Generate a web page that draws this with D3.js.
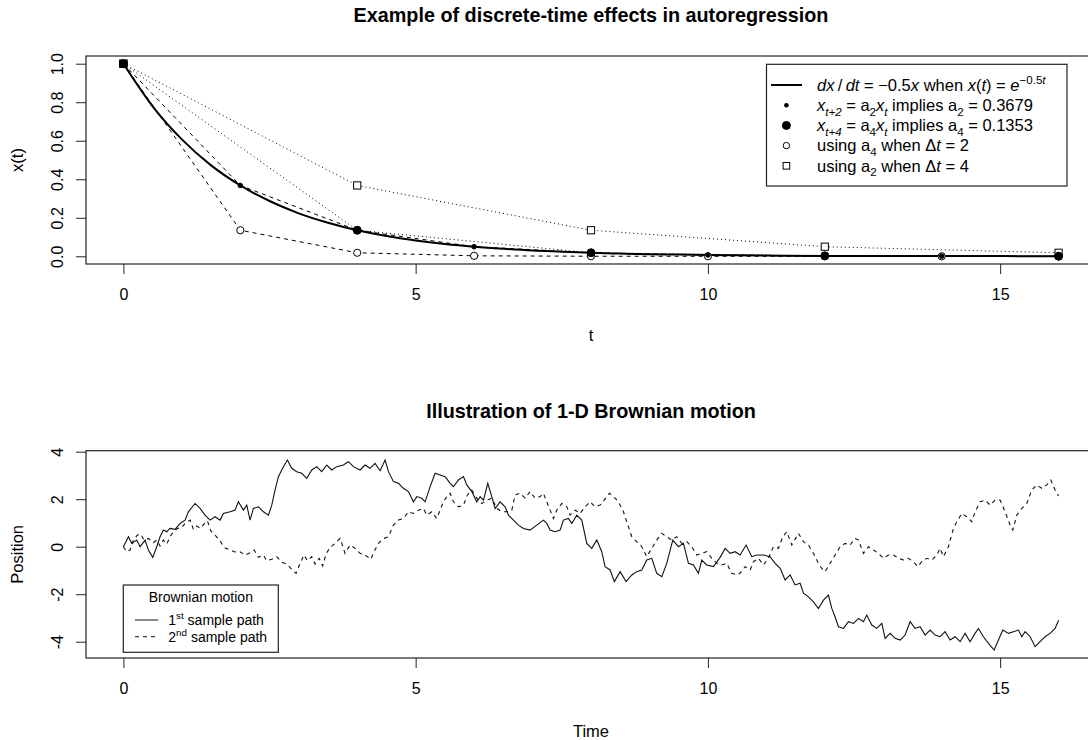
<!DOCTYPE html>
<html><head><meta charset="utf-8">
<script src="https://cdn.jsdelivr.net/npm/d3@7"></script>
<style>
html,body{margin:0;padding:0;background:#fff;}
svg{display:block;}
text{font-family:"Liberation Sans",Arial,Helvetica,sans-serif;fill:#000;}
</style></head><body>
<svg id="chart" width="1088" height="740"></svg>
<script>
// ---------- data ----------
const topTitle = "Example of discrete-time effects in autoregression";
const botTitle = "Illustration of 1-D Brownian motion";
const xTicks = [0, 5, 10, 15];
const yTicksTop = [0, 0.2, 0.4, 0.6, 0.8, 1.0];
const yTicksBot = [-4, -2, 0, 2, 4];

// continuous solution x(t)
const curveT = [0,0.5,1,1.5,2,2.5,3,3.5,4,4.5,5,5.5,6,6.5,7,7.5,8,8.5,9,9.5,10,11,12,13,14,15,16];
const curveX = [1,0.779,0.607,0.472,0.368,0.287,0.223,0.174,0.135,0.105,0.082,0.064,0.050,0.039,0.030,0.024,0.018,0.014,0.011,0.009,0.007,0.004,0.002,0.002,0.001,0.001,0.000];

// starting point (filled square)
const startT = [0];
const startX = [1];
// a2 every 2 steps (small dots, dashed)
const smallT = [0,2,4,6,8,10,12,14,16];
const smallX = [1,0.3679,0.1353,0.0498,0.0183,0.0067,0.0025,0.0009,0.0003];
// a4 every 4 steps (big dots, dotted)
const bigT = [0,4,8,12,16];
const bigX = [1,0.1353,0.0183,0.0025,0.0003];
// using a4 when dt=2 (open circles, dashed)
const circT = [0,2,4,6,8,10,12,14,16];
const circX = [1,0.1353,0.0183,0.0025,0.0003,0.0000,0.0000,0.0000,0.0000];
// using a2 when dt=4 (open squares, dotted)
const sqT = [0,4,8,12,16];
const sqX = [1,0.3679,0.1353,0.0498,0.0183];

// Brownian sample path 1
const bm1T = [0,0.086,0.143,0.228,0.285,0.371,0.428,0.502,0.570,0.627,0.684,0.741,0.798,0.884,0.969,1.055,1.112,1.226,1.312,1.397,1.483,1.568,1.654,1.711,1.825,1.910,1.967,2.053,2.110,2.167,2.224,2.310,2.395,2.481,2.538,2.595,2.652,2.737,2.806,2.880,2.965,3.051,3.137,3.222,3.308,3.393,3.479,3.564,3.650,3.764,3.849,3.935,4.049,4.135,4.220,4.306,4.392,4.477,4.535,4.62,4.706,4.79,4.877,4.962,5.02,5.105,5.162,5.248,5.333,5.418,5.504,5.59,5.647,5.732,5.818,5.875,5.96,6.046,6.103,6.16,6.234,6.302,6.36,6.445,6.53,6.588,6.673,6.759,6.844,6.958,7.072,7.186,7.243,7.3,7.386,7.472,7.528,7.614,7.671,7.757,7.842,7.928,8.013,8.099,8.184,8.241,8.327,8.40,8.498,8.60,8.698,8.783,8.869,8.954,9.04,9.125,9.211,9.296,9.399,9.496,9.582,9.667,9.753,9.838,9.895,9.981,10.095,10.209,10.295,10.38,10.466,10.55,10.654,10.75,10.836,10.95,11.064,11.15,11.236,11.321,11.407,11.492,11.578,11.635,11.72,11.806,11.891,11.977,12.062,12.12,12.176,12.234,12.319,12.405,12.49,12.576,12.661,12.718,12.804,12.889,12.975,13.032,13.117,13.203,13.289,13.374,13.46,13.545,13.631,13.716,13.802,13.887,13.973,14.058,14.144,14.23,14.315,14.4,14.486,14.571,14.629,14.714,14.8,14.897,14.971,15.045,15.142,15.228,15.313,15.37,15.427,15.513,15.598,15.684,15.769,15.855,15.94,16.0];
const bm1X = [0,0.42,0.14,0.28,0,0.28,-0.14,-0.45,0,0.42,0.70,0.63,0.77,0.73,0.98,1.12,1.47,1.82,1.61,1.33,1.12,1.26,1.12,1.40,1.47,1.54,1.89,1.54,1.75,1.12,1.61,1.68,1.47,1.33,1.75,2.39,2.95,3.37,3.65,3.30,3.16,3.09,2.88,3.23,3.37,3.16,3.44,3.23,3.37,3.44,3.58,3.37,3.23,3.44,3.30,3.51,3.20,3.65,3.16,2.74,2.67,2.46,2.32,1.89,2.11,2.04,1.89,2.53,3.09,3.02,2.95,2.67,2.53,2.81,2.95,2.60,2.32,1.89,2.11,1.96,2.67,2.11,1.61,1.89,1.68,1.33,1.12,0.91,0.77,0.70,0.91,1.12,0.98,0.70,0.63,0.70,1.12,1.19,0.98,1.33,1.12,0.14,-0.07,0.28,-0.21,-0.84,-0.98,-1.47,-1.05,-1.47,-1.19,-1.05,-0.98,-0.56,-0.49,-1.12,-1.26,-0.70,0.28,0,0.14,-0.70,-0.77,-1.12,-0.56,-0.77,-0.84,-0.45,-0.07,-0.28,-0.21,-0.35,0.07,-0.42,-0.35,-0.35,-0.42,-0.70,-0.91,-1.40,-1.19,-1.61,-1.54,-1.96,-2.11,-2.32,-2.60,-2.25,-2.04,-2.60,-2.95,-3.37,-3.44,-3.16,-3.23,-3.02,-3.16,-2.88,-3.30,-3.44,-3.23,-3.86,-3.65,-3.86,-3.93,-3.72,-3.16,-3.44,-3.37,-3.72,-3.51,-3.72,-3.79,-3.58,-3.93,-3.79,-4.0,-3.65,-4.0,-3.65,-3.44,-3.79,-4.07,-4.35,-3.93,-3.51,-3.65,-3.58,-3.51,-3.79,-3.58,-3.79,-4.21,-4.0,-3.79,-3.65,-3.44,-3.10];

// Brownian sample path 2
const bm2T = [0,0.057,0.114,0.171,0.24,0.297,0.354,0.428,0.513,0.57,0.627,0.684,0.741,0.798,0.855,0.924,0.998,1.055,1.141,1.198,1.255,1.312,1.38,1.437,1.494,1.568,1.654,1.722,1.825,1.91,1.996,2.082,2.167,2.236,2.31,2.395,2.452,2.538,2.623,2.709,2.794,2.88,2.954,3.023,3.091,3.148,3.222,3.279,3.348,3.41,3.467,3.536,3.621,3.707,3.792,3.878,3.963,4.049,4.135,4.232,4.289,4.363,4.448,4.534,4.62,4.706,4.79,4.877,4.962,5.048,5.133,5.19,5.276,5.361,5.418,5.476,5.533,5.59,5.647,5.732,5.818,5.886,5.96,6.046,6.132,6.217,6.302,6.388,6.474,6.559,6.645,6.702,6.787,6.873,6.958,7.044,7.129,7.186,7.243,7.3,7.357,7.414,7.5,7.586,7.643,7.728,7.814,7.899,7.985,8.07,8.156,8.224,8.316,8.384,8.47,8.555,8.612,8.698,8.783,8.869,8.954,9.04,9.125,9.211,9.296,9.382,9.468,9.553,9.639,9.724,9.81,9.895,9.981,10.066,10.152,10.237,10.323,10.408,10.494,10.55,10.637,10.722,10.779,10.865,10.95,11.036,11.121,11.207,11.281,11.35,11.435,11.549,11.635,11.72,11.806,11.891,11.948,12.005,12.091,12.176,12.262,12.348,12.433,12.519,12.576,12.661,12.747,12.832,12.918,13.003,13.089,13.175,13.26,13.346,13.431,13.517,13.591,13.659,13.745,13.83,13.916,13.973,14.03,14.115,14.201,14.258,14.344,14.429,14.515,14.572,14.657,14.743,14.828,14.914,15.0,15.085,15.17,15.216,15.285,15.37,15.456,15.541,15.627,15.712,15.798,15.866,15.94,16.0];
const bm2X = [0,-0.21,-0.14,0.28,0.49,0.53,0.28,0.35,0.17,0.28,0.03,0.28,0.11,0.42,0.63,0.77,0.81,0.98,1.12,0.73,0.87,0.77,0.95,1.09,0.67,0.49,0.25,-0.03,-0.14,-0.22,-0.21,-0.36,-0.25,-0.14,-0.45,-0.35,-0.59,-0.53,-0.42,-0.65,-0.73,-0.95,-1.12,-0.70,-0.35,-0.59,-0.42,-0.73,-0.49,-0.81,-0.31,-0.03,0.14,0.35,-0.28,0.07,-0.07,-0.28,-0.35,-0.53,-0.21,0.14,0.34,0.42,0.91,1.12,1.19,1.47,1.40,1.54,1.61,1.33,1.47,1.19,1.54,1.89,2.11,2.25,1.89,1.68,1.75,2.18,2.39,2.04,1.82,1.96,2.04,1.61,1.47,1.47,1.54,2.18,2.25,2.04,2.32,2.04,2.11,2.25,1.89,1.54,1.19,1.54,1.82,1.68,1.33,1.54,1.40,1.68,1.89,1.68,1.75,1.96,2.25,2.11,1.89,1.47,1.05,0.42,0.21,0,-0.42,-0.07,0.28,0.56,0.42,0.28,0.42,0.14,0.21,0,-0.35,-0.28,-0.21,-0.49,-0.70,-0.77,-0.70,-1.12,-1.19,-1.12,-0.84,-0.98,-0.63,-0.49,-0.77,-0.49,0,-0.07,0.42,0.63,0.07,0.56,0.21,0.07,-0.28,-0.70,-0.91,-1.05,-0.70,-0.35,0,0.14,0.07,0.35,0.28,-0.28,0,-0.14,-0.28,-0.49,-0.35,-0.35,-0.49,-0.56,-0.49,-0.63,-0.84,-0.63,-0.49,-0.56,-0.35,-0.07,-0.42,0,0.77,1.05,1.40,1.26,1.05,1.47,1.89,1.96,1.75,1.96,1.96,1.47,0.91,0.70,1.33,1.61,1.82,2.39,2.60,2.46,2.60,2.81,2.39,2.14];

// ---------- drawing ----------
const svg = d3.select("#chart");
const FS = 16;      // tick labels
const FL = 16.5;    // axis titles / legend
const FT = 19.8;    // main titles
const left = 86, right = 1096;
const top1 = 56, bot1 = 264;
const top2 = 450.7, bot2 = 658;

const x = d3.scaleLinear().domain([-0.64, 16.64]).range([left, right]);
const y1 = d3.scaleLinear().domain([-0.04, 1.04]).range([bot1, top1]);
const y2 = d3.scaleLinear().domain([-4.686, 4.042]).range([bot2, top2]);

function axes(yScale, yTicks, yFmt, top, bot) {
  const gx = svg.append("g").attr("transform", `translate(0,${bot})`)
    .call(d3.axisBottom(x).tickValues(xTicks).tickSize(10).tickPadding(15).tickFormat(d3.format("d")));
  gx.select(".domain").remove();
  gx.attr("font-family", null);
  gx.selectAll("text").attr("font-size", FS).style("fill", "#000");
  gx.selectAll("line").attr("stroke", "#222");
  const gy = svg.append("g").attr("transform", `translate(${left},0)`)
    .call(d3.axisLeft(yScale).tickValues(yTicks).tickSize(10).tickFormat(yFmt));
  gy.select(".domain").remove();
  gy.attr("font-family", null);
  gy.selectAll("line").attr("stroke", "#222");
  gy.selectAll("text").attr("font-size", FS).attr("x", null).attr("dy", null)
    .attr("text-anchor", "middle").attr("transform", "translate(-23.5,0) rotate(-90)").style("fill", "#000");
  svg.append("rect").attr("x", left).attr("y", top).attr("width", right - left).attr("height", bot - top)
    .attr("fill", "none").attr("stroke", "#222").attr("stroke-width", 1.2);
}

function label(txt, xx, yy, opts = {}) {
  const t = svg.append("text").attr("x", xx).attr("y", yy).attr("text-anchor", "middle")
    .attr("font-size", opts.size || FL).text(txt);
  if (opts.bold) t.attr("font-weight", "bold");
  if (opts.rot) t.attr("transform", `rotate(-90,${xx},${yy})`);
  return t;
}
const cx = (left + right) / 2;
label(topTitle, cx, 22, {bold: true, size: FT});
label(botTitle, cx, 418, {bold: true, size: FT});
label("t", cx, 341);
label("Time", cx, 737);
label("x(t)", 23, (top1 + bot1) / 2, {rot: true});
label("Position", 23, (top2 + bot2) / 2, {rot: true});

// ----- top panel -----
axes(y1, yTicksTop, d3.format(".1f"), top1, bot1);

const zip = (a, b) => a.map((v, i) => [v, b[i]]);
const line1 = d3.line().x(d => x(d[0])).y(d => y1(d[1]));
const smooth1 = d3.line().x(d => x(d[0])).y(d => y1(d[1])).curve(d3.curveMonotoneX);

function path(data, gen, dash, w) {
  const p = svg.append("path").datum(data).attr("d", gen).attr("fill", "none")
    .attr("stroke", "#000").attr("stroke-width", w || 1);
  if (dash) p.attr("stroke-dasharray", dash);
  return p;
}
path(zip(sqT, sqX), line1, "1,3");
path(zip(bigT, bigX), line1, "1,3");
path(zip(smallT, smallX), line1, "4,4");
path(zip(circT, circX), line1, "4,4");
path(zip(curveT, curveX), smooth1, null, 2);

const R = 3.6;
function sq(g, data, ys, fill) {
  g.selectAll(null).data(data).enter().append("rect")
    .attr("x", d => x(d[0]) - R).attr("y", d => ys(d[1]) - R).attr("width", 2 * R).attr("height", 2 * R)
    .attr("fill", fill).attr("stroke", "#000").attr("stroke-width", 1);
}
function circ(g, data, ys, r, fill) {
  g.selectAll(null).data(data).enter().append("circle")
    .attr("cx", d => x(d[0])).attr("cy", d => ys(d[1])).attr("r", r)
    .attr("fill", fill).attr("stroke", "#000").attr("stroke-width", 1);
}
const gp = svg.append("g");
sq(gp, zip(sqT, sqX), y1, "#fff");
circ(gp, zip(circT, circX), y1, R, "#fff");
circ(gp, zip(bigT, bigX), y1, 4, "#000");
circ(gp, zip(smallT, smallX), y1, 2.3, "#000");
sq(gp, zip(startT, startX), y1, "#000");

// top legend
const L = {x: 766.5, y: 64.3, w: 300.5, h: 121.7};
svg.append("rect").attr("x", L.x).attr("y", L.y).attr("width", L.w).attr("height", L.h)
  .attr("fill", "#fff").attr("stroke", "#222").attr("stroke-width", 1.2);
const rowsY = [85, 105.2, 125.4, 145.6, 165.8];
const symX = 786.4, txtX = 817;
svg.append("line").attr("x1", 771).attr("x2", 802).attr("y1", rowsY[0]).attr("y2", rowsY[0])
  .attr("stroke", "#000").attr("stroke-width", 2);
svg.append("circle").attr("cx", symX).attr("cy", rowsY[1]).attr("r", 2.3).attr("fill", "#000");
svg.append("circle").attr("cx", symX).attr("cy", rowsY[2]).attr("r", 4).attr("fill", "#000").attr("stroke", "#000");
svg.append("circle").attr("cx", symX).attr("cy", rowsY[3]).attr("r", 3.2).attr("fill", "#fff").attr("stroke", "#000");
svg.append("rect").attr("x", symX - 3.3).attr("y", rowsY[4] - 3.3).attr("width", 6.6).attr("height", 6.6)
  .attr("fill", "#fff").attr("stroke", "#000");

function rich(xx, yy, segs, size) {
  const t = svg.append("text").attr("x", xx).attr("y", yy).attr("font-size", size).attr("xml:space", "preserve")
    .style("white-space", "pre");
  let cur = 0;
  segs.forEach(s => {
    const shift = s.sub ? 0.28 * size : s.sup ? -0.42 * size : 0;
    const ts = t.append("tspan").text(s.t).attr("dy", shift - cur);
    cur = shift;
    if (s.sub || s.sup) ts.attr("font-size", size * 0.7);
    if (s.it) ts.attr("font-style", "italic");
  });
  return t;
}
const sl = "\u2009/\u2009";
const eq = " = ";
const legRows = [
  [{t: "dx", it: 1}, {t: sl}, {t: "dt", it: 1}, {t: eq + "\u22120.5"}, {t: "x", it: 1}, {t: " when "},
   {t: "x", it: 1}, {t: "("}, {t: "t", it: 1}, {t: ")"}, {t: eq}, {t: "e", it: 1}, {t: "\u22120.5", sup: 1}, {t: "t", sup: 1, it: 1}],
  [{t: "x", it: 1}, {t: "t+2", sub: 1, it: 1}, {t: eq + "a"}, {t: "2", sub: 1}, {t: "x", it: 1}, {t: "t", sub: 1, it: 1},
   {t: " implies a"}, {t: "2", sub: 1}, {t: eq + "0.3679"}],
  [{t: "x", it: 1}, {t: "t+4", sub: 1, it: 1}, {t: eq + "a"}, {t: "4", sub: 1}, {t: "x", it: 1}, {t: "t", sub: 1, it: 1},
   {t: " implies a"}, {t: "4", sub: 1}, {t: eq + "0.1353"}],
  [{t: "using a"}, {t: "4", sub: 1}, {t: " when \u0394"}, {t: "t", it: 1}, {t: eq + "2"}],
  [{t: "using a"}, {t: "2", sub: 1}, {t: " when \u0394"}, {t: "t", it: 1}, {t: eq + "4"}]
];
legRows.forEach((r, i) => rich(txtX, rowsY[i] + 5.8, r, FL));

// ----- bottom panel -----
axes(y2, yTicksBot, d => String(d), top2, bot2);
const line2 = d3.line().x(d => x(d[0])).y(d => y2(d[1]));
path(zip(bm2T, bm2X), line2, "4,4", 1.1).attr("stroke", "#111");
path(zip(bm1T, bm1X), line2, null, 1.1).attr("stroke", "#111");

// bottom legend
const B = {x: 123.3, y: 585, w: 155, h: 67.3};
svg.append("rect").attr("x", B.x).attr("y", B.y).attr("width", B.w).attr("height", B.h)
  .attr("fill", "#fff").attr("stroke", "#222").attr("stroke-width", 1.2);
label("Brownian motion", 200.8, 601.6, {size: 14});
svg.append("line").attr("x1", 135).attr("x2", 158.3).attr("y1", 620).attr("y2", 620).attr("stroke", "#111");
svg.append("line").attr("x1", 135).attr("x2", 158.3).attr("y1", 636.7).attr("y2", 636.7).attr("stroke", "#111")
  .attr("stroke-dasharray", "4,4");
rich(168.3, 625, [{t: "1"}, {t: "st", sup: 1}, {t: " sample path"}], 14);
rich(168.3, 641.7, [{t: "2"}, {t: "nd", sup: 1}, {t: " sample path"}], 14);
</script>
</body></html>
